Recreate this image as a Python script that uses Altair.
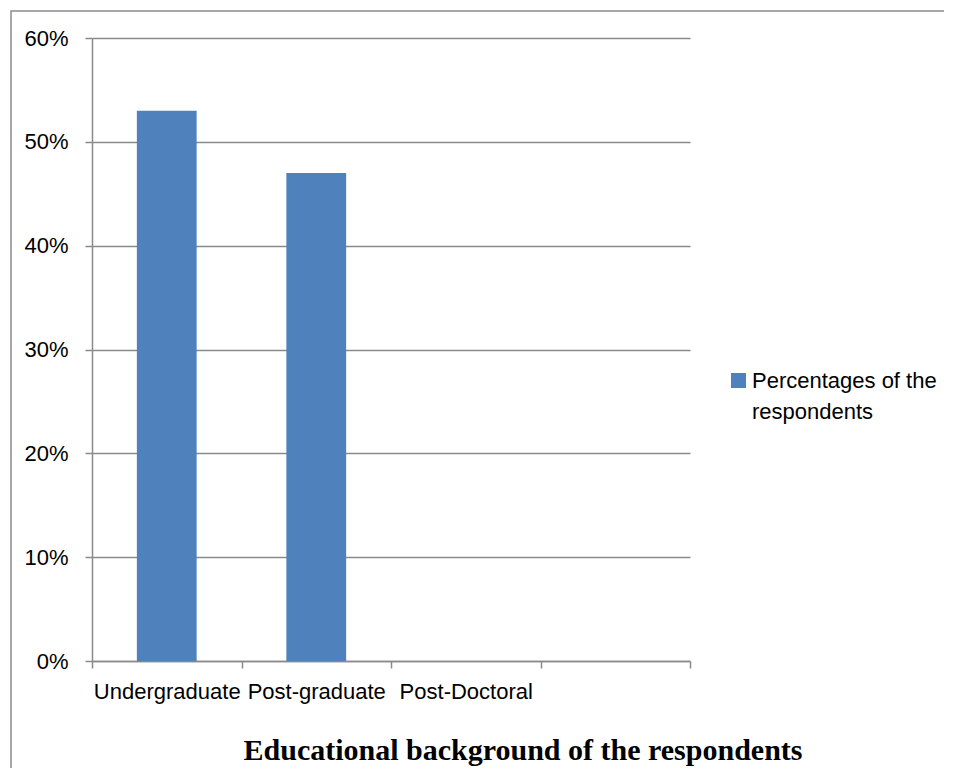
import altair as alt
import pandas as pd

categories = ["Undergraduate", "Post-graduate", "Post-Doctoral"]
axis_categories = ["Undergraduate", "Post-graduate", "Post-Doctoral", " "]
percentages = [0.53, 0.47, 0.0]
series_name = "Percentages of the respondents"
legend_lines = ["Percentages of the", "respondents"]
y_ticks = [0, 0.1, 0.2, 0.3, 0.4, 0.5, 0.6]
title_text = "Educational background of the respondents"

df = pd.DataFrame({"category": categories, "value": percentages, "series": series_name})
legend_df = pd.DataFrame({"series": [series_name]})

GREY = "#8a8a8a"
BLUE = "#4F81BD"
FONT = "Liberation Sans"

color_enc = alt.Color("series:N", scale=alt.Scale(domain=[series_name], range=[BLUE]), legend=None)

bars = alt.Chart(df).mark_bar(width=alt.RelativeBandSize(0.4)).encode(
    x=alt.X("category:N", sort=axis_categories,
            scale=alt.Scale(domain=axis_categories, paddingInner=0, paddingOuter=0),
            axis=alt.Axis(title=None, labelAngle=0, tickBand="extent", tickSize=7,
                          tickColor=GREY, tickWidth=1.5, domainColor=GREY, domainWidth=1.5,
                          labelFont=FONT, labelFontSize=22, labelColor="black",
                          labelPadding=13, labelLimit=0, grid=False)),
    y=alt.Y("value:Q", scale=alt.Scale(domain=[0, 0.6]),
            axis=alt.Axis(title=None, values=y_ticks, format=".0%", tickSize=7,
                          tickColor=GREY, tickWidth=1.5, domainColor=GREY, domainWidth=1.5,
                          gridColor=GREY, gridWidth=1.5, labelFont=FONT, labelFontSize=22,
                          labelColor="black", labelPadding=17)),
    color=color_enc,
)

legend_symbol = alt.Chart(legend_df).mark_square(size=225, opacity=1, strokeWidth=0).encode(
    x=alt.value(646.5), y=alt.value(342.5), color=color_enc
)
legend_label = alt.Chart(legend_df).mark_text(
    align="left", baseline="alphabetic", font=FONT, fontSize=22, lineHeight=31,
    color="black", text=legend_lines
).encode(x=alt.value(660), y=alt.value(350))

title = alt.Chart(legend_df).mark_text(
    align="center", baseline="alphabetic", font="Liberation Serif", fontSize=30,
    fontWeight="bold", color="black", text=title_text
).encode(x=alt.value(431), y=alt.value(722))

frame = alt.Chart(legend_df).mark_rect(
    fill=None, stroke=GREY, strokeWidth=1.5
).encode(x=alt.value(-81), x2=alt.value(1200), y=alt.value(-27), y2=alt.value(1200))

chart = alt.layer(frame, bars, legend_symbol, legend_label, title).properties(
    width=598, height=623,
    autosize=alt.AutoSizeParams(type="none"),
    padding={"left": 84, "top": 30, "right": 254, "bottom": 107},
).configure_view(stroke=None)

chart.save("out.html", embed_options={"renderer": "svg", "actions": False})
